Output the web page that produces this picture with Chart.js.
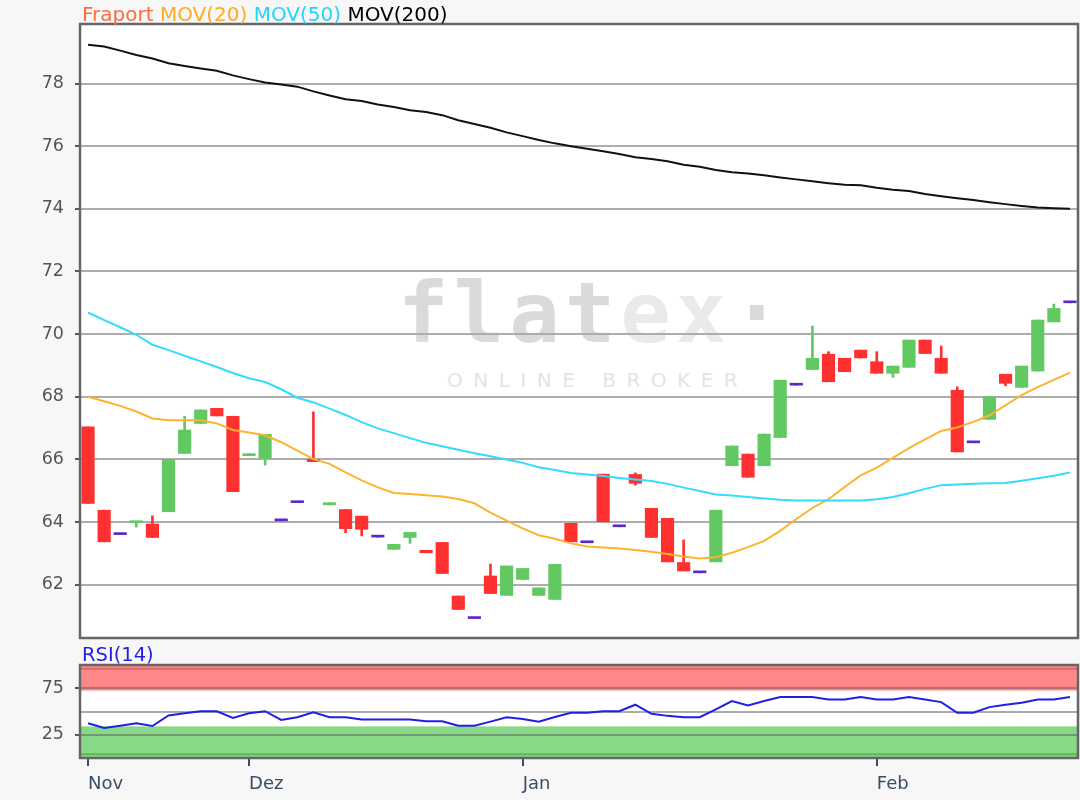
<!DOCTYPE html>
<html>
<head>
<meta charset="utf-8">
<script src="https://cdn.jsdelivr.net/npm/chart.js@4.4.1/dist/chart.umd.min.js"></script>
<style>
  body { margin: 0; background: #f7f7f7; width: 1080px; height: 800px; overflow: hidden; position: relative; font-family: "DejaVu Sans", sans-serif; }
  .abs { position: absolute; }
  #plotbg { left: 80px; top: 24px; width: 998px; height: 614px; background: #fff; }
  #wm1 { left: 398px; top: 271px; font: bold 84px/84px "DejaVu Sans Mono", monospace; letter-spacing: 5px; color: #dadada; white-space: nowrap; }
  #wm1 .lt { color: #eaeaea; }
  #wm2 { left: 447px; top: 370px; font: 20px/20px "DejaVu Sans", sans-serif; letter-spacing: 10.5px; color: #e4e4e4; white-space: nowrap; }
  #title { left: 82px; top: 4px; font: 20px/20px "DejaVu Sans", sans-serif; white-space: nowrap; }
  #rsititle { left: 82px; top: 645px; font: 19.5px/20px "DejaVu Sans", sans-serif; color: #1f1fe6; }
  canvas { position: absolute; left: 0; }
</style>
</head>
<body>
<div id="plotbg" class="abs"></div>
<div id="wm1" class="abs">flat<span class="lt">ex</span>·</div>
<div id="wm2" class="abs">ONLINE BROKER</div>
<canvas id="main" width="1080" height="640" style="top:0"></canvas>
<canvas id="rsi" width="1080" height="160" style="top:640px"></canvas>
<div id="title" class="abs"><span style="color:#ff6a40">Fraport</span> <span style="color:#ffaa22">MOV(20)</span> <span style="color:#22d4ff">MOV(50)</span> <span style="color:#000">MOV(200)</span></div>
<div id="rsititle" class="abs">RSI(14)</div>
<script>
// Kursdaten (Fraport, Nov - Feb), ein Wert pro Handelstag
const opens  = [67.04,64.38,63.6,63.98,63.94,64.33,66.19,67.15,67.63,67.38,66.12,66.03,64.04,64.62,66.0,64.55,64.4,64.19,63.52,63.13,63.51,63.1,63.35,61.64,60.92,62.28,61.66,62.17,61.66,61.53,63.96,63.34,65.53,63.85,65.52,64.44,64.12,62.71,62.38,62.73,65.8,66.17,65.8,66.7,68.37,68.87,69.36,69.23,69.49,69.12,68.75,68.94,69.81,69.23,68.21,66.53,67.28,68.72,68.3,68.82,70.39,71.0];
const closes = [64.6,63.37,63.6,64.02,63.51,66.0,66.94,67.58,67.39,64.97,66.18,66.8,64.04,64.62,65.93,64.62,63.79,63.77,63.52,63.29,63.67,63.02,62.36,61.21,60.92,61.72,62.6,62.52,61.9,62.65,63.37,63.34,64.01,63.85,65.24,63.51,62.73,62.44,62.38,64.38,66.43,65.43,66.81,68.53,68.37,69.23,68.48,68.8,69.24,68.75,68.98,69.81,69.38,68.75,66.24,66.53,68.0,68.43,68.98,70.45,70.82,71.0];
const highs  = [67.04,64.38,63.6,64.02,64.2,66.0,67.38,67.58,67.63,67.38,66.18,66.8,64.04,64.62,67.52,64.62,64.4,64.19,63.52,63.29,63.67,63.1,63.35,61.64,60.92,62.66,62.6,62.52,61.9,62.65,63.96,63.34,65.53,63.85,65.57,64.44,64.12,63.43,62.38,64.38,66.43,66.17,66.81,68.53,68.37,70.26,69.44,69.23,69.49,69.44,68.98,69.81,69.81,69.62,68.32,66.53,68.0,68.72,68.98,70.45,70.96,71.0];
const lows   = [64.6,63.37,63.6,63.84,63.51,64.33,66.19,67.15,67.39,64.97,66.12,65.82,64.04,64.62,65.93,64.55,63.66,63.56,63.52,63.13,63.32,63.02,62.36,61.21,60.92,61.72,61.66,62.17,61.66,61.53,63.37,63.34,64.01,63.85,65.18,63.51,62.73,62.44,62.38,62.73,65.8,65.43,65.8,66.7,68.37,68.87,68.48,68.8,69.24,68.75,68.62,68.94,69.38,68.75,66.24,66.53,67.28,68.35,68.3,68.82,70.39,71.0];

const mov20  = [68.0,67.86,67.71,67.53,67.31,67.25,67.25,67.25,67.15,66.94,66.86,66.77,66.55,66.28,66.01,65.86,65.59,65.33,65.11,64.93,64.9,64.86,64.82,64.74,64.6,64.3,64.05,63.8,63.58,63.47,63.32,63.22,63.19,63.16,63.11,63.05,62.98,62.9,62.84,62.88,63.02,63.2,63.4,63.72,64.1,64.45,64.73,65.12,65.49,65.74,66.05,66.36,66.64,66.91,67.02,67.2,67.41,67.73,68.05,68.31,68.54,68.77];
const mov50  = [70.69,70.45,70.22,69.98,69.66,69.49,69.31,69.13,68.95,68.76,68.59,68.47,68.24,67.97,67.82,67.62,67.42,67.19,66.99,66.84,66.68,66.53,66.42,66.31,66.2,66.1,66.0,65.89,65.75,65.66,65.57,65.52,65.47,65.41,65.36,65.31,65.22,65.1,64.99,64.88,64.85,64.8,64.75,64.71,64.69,64.69,64.69,64.69,64.69,64.73,64.8,64.92,65.06,65.18,65.2,65.22,65.24,65.25,65.32,65.4,65.48,65.58];
const mov200 = [79.24,79.18,79.05,78.91,78.8,78.65,78.56,78.48,78.41,78.26,78.14,78.03,77.97,77.9,77.75,77.62,77.5,77.44,77.33,77.25,77.15,77.09,76.99,76.83,76.71,76.59,76.44,76.32,76.2,76.09,76.0,75.92,75.84,75.75,75.65,75.59,75.52,75.41,75.34,75.24,75.17,75.13,75.07,75.0,74.94,74.88,74.82,74.77,74.75,74.67,74.61,74.57,74.47,74.4,74.34,74.28,74.21,74.15,74.09,74.04,74.02,74.0];

const rsi14 = [37.3,32.3,34.8,37.3,34.4,45.7,48.2,50.3,50.3,43.1,48.2,50.3,41.0,43.8,49.2,43.8,43.8,41.3,41.3,41.3,41.3,39.5,39.5,34.8,34.8,39.1,43.8,42.0,39.1,44.0,48.6,48.6,50.3,50.3,57.3,47.5,45.3,43.8,43.8,52.2,61.2,56.5,61.2,65.5,65.5,65.5,63.0,63.0,65.5,63.0,63.0,65.5,63.0,60.1,48.6,48.6,54.7,57.3,59.5,63.0,63.0,65.5];

const monthIdx = [0, 10, 27, 49];
const monthLabels = ['Nov', 'Dez', 'Jan', 'Feb'];
const priceTicks = [62, 64, 66, 68, 70, 72, 74, 76, 78];
const rsiTicks = [25, 50, 75];

const RED = '#ff3030', GREEN = '#62c862', FLAT = '#5a28c8';
function candleColor(i) {
  if (opens[i] === closes[i]) return FLAT;
  return closes[i] > opens[i] ? GREEN : RED;
}
const xy = arr => arr.map((v, i) => ({ x: i, y: v }));

const frame = {
  id: 'frame',
  afterDraw(chart) {
    const a = chart.chartArea, c = chart.ctx;
    c.save();
    c.strokeStyle = '#666';
    c.lineWidth = 2.5;
    c.strokeRect(a.left, a.top, a.right - a.left, a.bottom - a.top);
    c.restore();
  }
};

const xScale = { type: 'linear', min: -0.5, max: 61.5, offset: false };
const font = { family: 'DejaVu Sans', size: 17.5 };
const noPad = s => { s.width = 80; s.paddingTop = 0; s.paddingBottom = 0; };

new Chart(document.getElementById('main'), {
  type: 'bar',
  data: {
    datasets: [
      { type: 'line', data: xy(mov200), borderColor: '#111', borderWidth: 2, pointRadius: 0, order: 0 },
      { type: 'line', data: xy(mov50), borderColor: '#33dcff', borderWidth: 2, pointRadius: 0, order: 0 },
      { type: 'line', data: xy(mov20), borderColor: '#ffb22e', borderWidth: 2, pointRadius: 0, order: 0 },
      { data: opens.map((o, i) => ({ x: i, y: [o, closes[i]] })), backgroundColor: c => candleColor(c.dataIndex),
        barThickness: 12.5, minBarLength: 2, grouped: false, order: 1 },
      { data: lows.map((l, i) => ({ x: i, y: [l, highs[i]] })), backgroundColor: c => candleColor(c.dataIndex),
        barThickness: 2, grouped: false, order: 2 }
    ]
  },
  options: {
    responsive: false, animation: false,
    layout: { padding: { top: 24, right: 2, bottom: 2, left: 0 } },
    plugins: { legend: { display: false }, tooltip: { enabled: false } },
    scales: {
      x: Object.assign({ display: false, grid: { offset: false } }, xScale),
      y: {
        min: 60.3, max: 79.9,
        afterFit: noPad,
        afterBuildTicks: s => { s.ticks = priceTicks.map(v => ({ value: v })); },
        border: { display: false },
        grid: { color: '#adadad', lineWidth: 2, tickLength: 5, tickColor: '#555' },
        ticks: { font: font, color: '#555', padding: 11 }
      }
    }
  },
  plugins: [frame]
});

const bands = {
  id: 'bands',
  beforeDraw(chart) {
    const a = chart.chartArea, c = chart.ctx, y = chart.scales.y;
    c.save();
    c.fillStyle = '#fff';
    c.fillRect(a.left, a.top, a.right - a.left, a.bottom - a.top);
    [[72.5, 100, '#ff8888', '#e06666', [96]], [0, 34, '#88d888', '#5cb85c', [4]]].forEach(b => {
      const y1 = y.getPixelForValue(b[1]), y0 = y.getPixelForValue(b[0]);
      c.fillStyle = b[2];
      c.fillRect(a.left, y1, a.right - a.left, y0 - y1);
      c.strokeStyle = b[3];
      c.lineWidth = 2;
      b[4].forEach(v => {
        const p = y.getPixelForValue(v);
        c.beginPath(); c.moveTo(a.left, p); c.lineTo(a.right, p); c.stroke();
      });
    });
    c.restore();
  }
};

new Chart(document.getElementById('rsi'), {
  type: 'line',
  data: {
    datasets: [
      { data: xy(rsi14), borderColor: '#1f1fe6', borderWidth: 2, pointRadius: 0 }
    ]
  },
  options: {
    responsive: false, animation: false,
    layout: { padding: { top: 25, right: 2, bottom: 0, left: 0 } },
    plugins: { legend: { display: false }, tooltip: { enabled: false } },
    scales: {
      x: Object.assign({
        afterFit: s => { s.height = 42; },
        afterBuildTicks: s => { s.ticks = monthIdx.map(v => ({ value: v })); },
        border: { display: false },
        grid: { drawOnChartArea: false, tickLength: 8, tickColor: '#3b4d63', lineWidth: 2 },
        ticks: { font: { family: 'DejaVu Sans', size: 18 }, color: '#3b4d63', align: 'start', padding: 8,
          autoSkip: false, maxRotation: 0, callback: (v, i) => monthLabels[i] }
      }, xScale),
      y: {
        min: 0, max: 100,
        afterFit: noPad,
        afterBuildTicks: s => { s.ticks = rsiTicks.map(v => ({ value: v })); },
        border: { display: false },
        grid: { color: 'rgba(90,90,90,0.5)', lineWidth: 2, tickLength: 5,
          tickColor: c => (c.tick && c.tick.value === 50) ? 'rgba(0,0,0,0)' : '#555' },
        ticks: { font: font, color: '#555', padding: 11, callback: v => (v === 50 ? '' : v) }
      }
    }
  },
  plugins: [bands, frame]
});
</script>
</body>
</html>
